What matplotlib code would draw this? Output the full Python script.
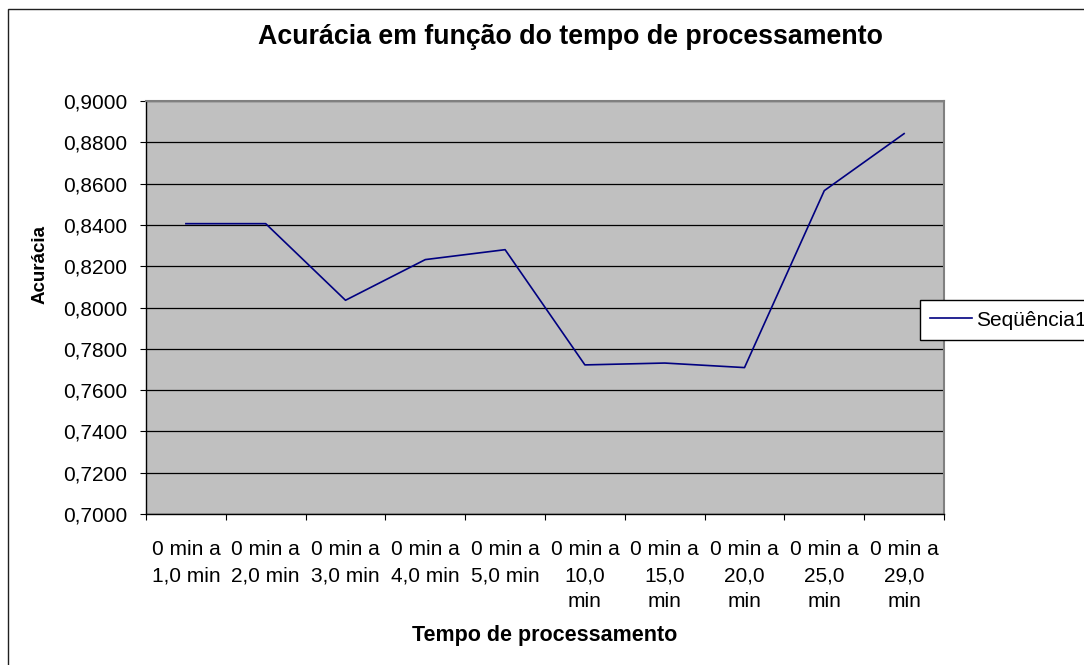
import numpy as np
import matplotlib
matplotlib.use('Agg')
import matplotlib.pyplot as plt
from matplotlib.patches import Rectangle
from matplotlib.ticker import FuncFormatter

# data
categorias = ['0 min a\n1,0 min', '0 min a\n2,0 min', '0 min a\n3,0 min',
              '0 min a\n4,0 min', '0 min a\n5,0 min', '0 min a\n10,0\nmin',
              '0 min a\n15,0\nmin', '0 min a\n20,0\nmin', '0 min a\n25,0\nmin',
              '0 min a\n29,0\nmin']
acuracia = [0.8406, 0.8406, 0.8035, 0.8232, 0.8280,
            0.7722, 0.7731, 0.7709, 0.8566, 0.8842]
serie = 'Seqüência1'

plt.rcParams['font.family'] = ['Liberation Sans', 'DejaVu Sans']

W, H = 1084, 665
fig = plt.figure(figsize=(W/100, H/100), dpi=100)
fig.patch.set_facecolor('white')

# outer chart border (right/bottom run off the picture)
fig.add_artist(Rectangle((8/W, -0.1), 1.2, 1 - 9/H + 0.1, transform=fig.transFigure,
                         fill=False, edgecolor='#202020', linewidth=1.0))

ax = fig.add_axes([146/W, 1 - 514/H, (944-146)/W, (514-101)/H])
ax.set_facecolor('#C0C0C0')

x = np.arange(len(acuracia))
ax.plot(x, acuracia, color='#000080', linewidth=1.2, label=serie, zorder=3)

ax.set_xlim(-0.5, len(acuracia) - 0.5)
ax.set_ylim(0.70, 0.90)
ax.set_yticks(np.arange(0.70, 0.9001, 0.02))
ax.yaxis.set_major_formatter(FuncFormatter(lambda v, p: ('%.4f' % v).replace('.', ',')))
ax.grid(axis='y', color='black', linewidth=0.9)
ax.set_axisbelow(True)

ax.set_xticks(np.arange(-0.5, len(acuracia), 1.0))
ax.set_xticklabels([])
ax.set_xticks(x, minor=True)
ax.set_xticklabels(categorias, minor=True, fontsize=15, linespacing=1.45)
ax.tick_params(axis='x', which='major', direction='out', length=4.5, width=0.8, color='black')
ax.tick_params(axis='x', which='minor', length=0, pad=19)
ax.tick_params(axis='y', direction='out', length=4.5, width=0.8, labelsize=15, pad=9)

for s in ['left', 'bottom']:
    ax.spines[s].set_color('black')
    ax.spines[s].set_linewidth(1.0)
for s in ['top', 'right']:
    ax.spines[s].set_color('#808080')
    ax.spines[s].set_linewidth(1.5)

fig.text(570/W, 1 - 37/H, 'Acurácia em função do tempo de processamento',
         ha='center', va='center', fontsize=19.3, fontweight='bold')
fig.text(545/W, 1 - 636/H, 'Tempo de processamento', ha='center', va='center',
         fontsize=15.5, fontweight='bold')
fig.text(40/W, 1 - 265/H, 'Acurácia', ha='center', va='center', rotation=90,
         fontsize=13.5, fontweight='bold')

leg = fig.legend(loc='center left', bbox_to_anchor=(920/W, 1 - 320/H), fontsize=15,
                 frameon=True, fancybox=False, edgecolor='black', framealpha=1,
                 handlelength=2.0, handletextpad=0.2, borderpad=0.5, borderaxespad=0)
leg.get_frame().set_linewidth(1.0)

fig.savefig('out.png', dpi=100)
